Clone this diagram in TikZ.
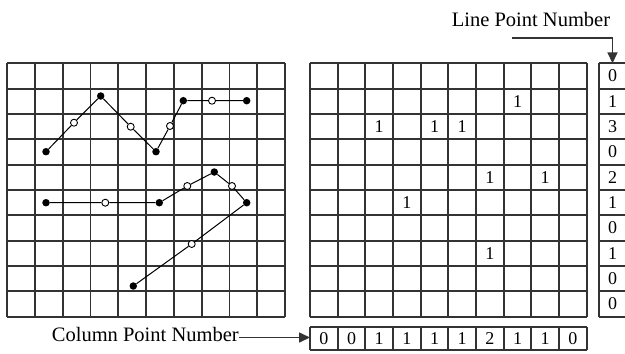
\documentclass[tikz,border=0pt]{standalone}
\usepackage{fontspec}
\setmainfont{Liberation Serif}
\usetikzlibrary{arrows.meta}
\begin{document}
\begin{tikzpicture}[x=1pt,y=-1pt,
  gridline/.style={draw=black!80, line width=1.8pt},
  dig/.style={font=\fontsize{18}{18}\selectfont, inner sep=0pt},
  lbl/.style={font=\fontsize{20.5}{20.5}\selectfont, inner sep=0pt},
  fdot/.style={circle, fill=black, inner sep=0pt, minimum size=7.5pt},
  odot/.style={circle, draw=black, fill=white, line width=0.9pt, inner sep=0pt, minimum size=7pt},
  seg/.style={draw=black, line width=1pt},
  arr/.style={draw=black!80, line width=1.6pt, -{Triangle[length=11pt,width=10pt]}}]
\useasboundingbox (0,0) rectangle (625,354);
% left grid
\foreach \i in {0,...,10} {
  \draw[gridline] ({7+27.8*\i},63.3) -- ({7+27.8*\i},316.7);
  \draw[gridline] (7,{63.3+25.34*\i}) -- (285,{63.3+25.34*\i});
}
% middle grid
\foreach \i in {0,...,10} {
  \draw[gridline] ({310+27.67*\i},63.3) -- ({310+27.67*\i},316.7);
  \draw[gridline] (310,{63.3+25.34*\i}) -- (586.7,{63.3+25.34*\i});
}
% right column
\draw[gridline] (599,63.3) -- (599,316.7);
\draw[gridline] (627,63.3) -- (627,316.7);
\foreach \i in {0,...,10}
  \draw[gridline] (599,{63.3+25.34*\i}) -- (627,{63.3+25.34*\i});
% bottom row
\foreach \i in {0,...,10}
  \draw[gridline] ({310+27.67*\i},327) -- ({310+27.67*\i},350);
\draw[gridline] (310,327) -- (586.7,327);
\draw[gridline] (310,350) -- (586.7,350);
% middle grid ones
\foreach \r/\c in {1/7, 2/2, 2/4, 2/5, 4/6, 4/8, 5/3, 7/6}
  \node[dig] (m\r\c) at ({310+27.67*(\c+0.5)},{63.3+25.34*(\r+0.5)}) {1};
% right column values
\foreach \v [count=\k from 0] in {0,1,3,0,2,1,0,1,0,0}
  \node[dig] (r\k) at (612.5,{63.3+25.34*(\k+0.5)}) {\v};
% bottom row values
\foreach \v [count=\k from 0] in {0,0,1,1,1,1,2,1,1,0}
  \node[dig] (c\k) at ({310+27.67*(\k+0.5)},338.5) {\v};
% left polylines
\node[fdot] (A1) at (46,151.7) {};
\node[odot] (a1) at (74,122.7) {};
\node[fdot] (A2) at (100.7,96) {};
\node[odot] (a2) at (130.7,126.7) {};
\node[fdot] (A3) at (156,151.7) {};
\node[odot] (a3) at (170,126) {};
\node[fdot] (A4) at (183.3,100.7) {};
\node[odot] (a4) at (212,100.7) {};
\node[fdot] (A5) at (246.7,100.7) {};
\draw[seg] (A1) -- (a1) -- (A2) -- (a2) -- (A3) -- (a3) -- (A4) -- (a4) -- (A5);
\node[fdot] (B1) at (46,202.7) {};
\node[odot] (b1) at (105.3,202.7) {};
\node[fdot] (B2) at (159.3,202.7) {};
\node[odot] (b2) at (187.3,186) {};
\node[fdot] (B3) at (214.3,172) {};
\node[odot] (b3) at (232,186) {};
\node[fdot] (B4) at (246.7,202.7) {};
\node[odot] (b4) at (191.7,244) {};
\node[fdot] (B5) at (133.3,286) {};
\draw[seg] (B1) -- (b1) -- (B2) -- (b2) -- (B3) -- (b3) -- (B4) -- (b4) -- (B5);
% labels and arrows
\node[lbl, anchor=base] (lpn) at (531,26) {Line Point Number};
\coordinate (lstart) at (512,38);
\coordinate (ltop) at (612.5,63.3);
\draw[arr] (lstart) -| (ltop);
\node[lbl, anchor=base west] (cpn) at (51.7,341) {Column Point Number};
\coordinate (cend) at (310,337.5);
\draw[arr] (cpn.east |- cend) -- (cend);
\end{tikzpicture}
\end{document}
